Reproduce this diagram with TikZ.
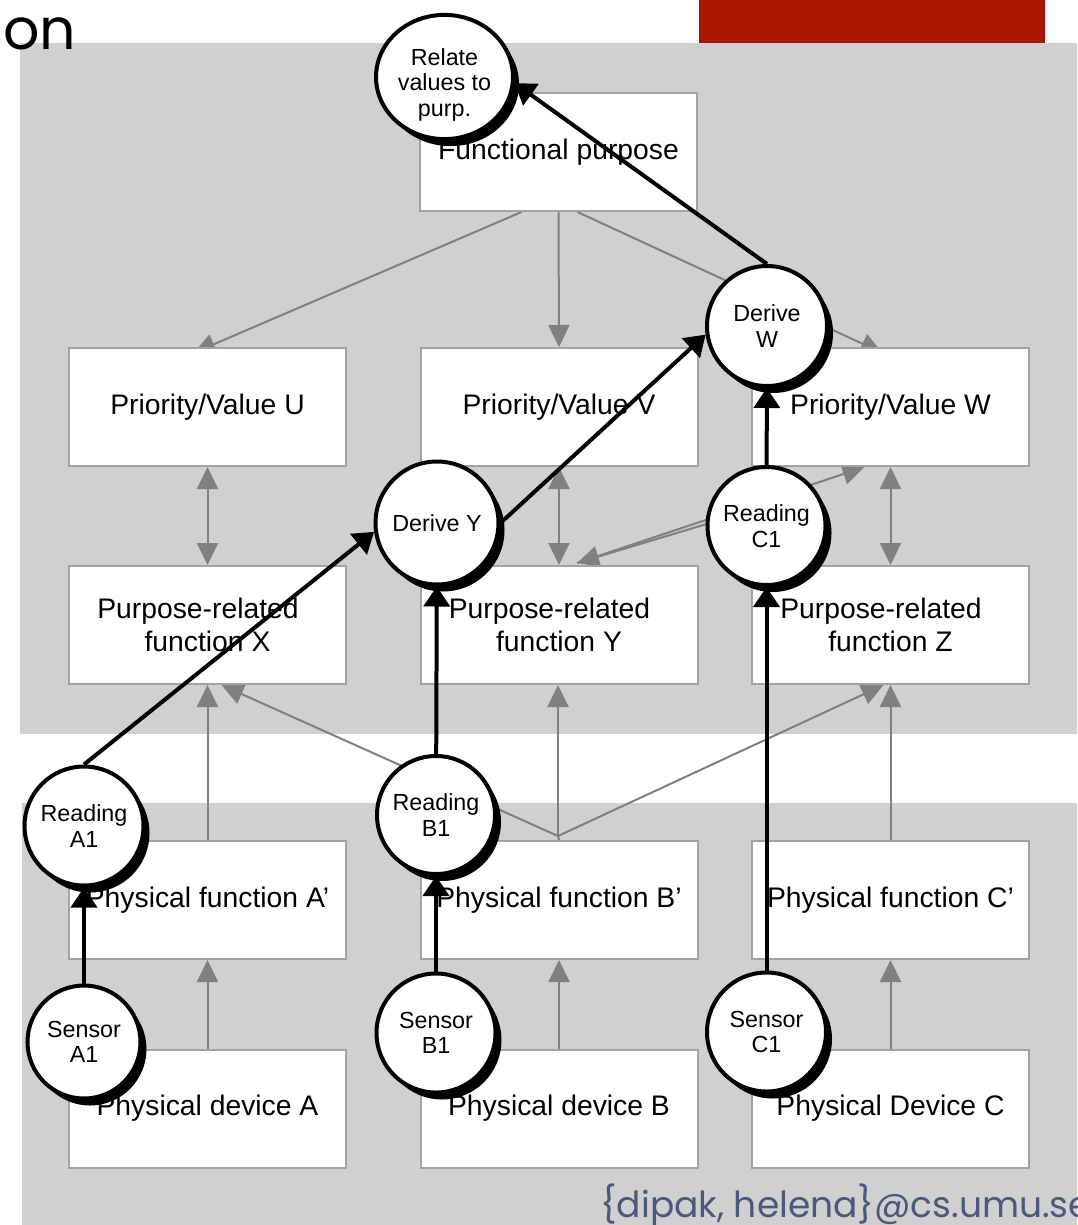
\documentclass[tikz,border=0pt]{standalone}
\usepackage{fontspec}
\setmainfont{Liberation Sans}
\newfontfamily\geofont{Poppins}
\usetikzlibrary{arrows.meta,shapes.geometric,shadows,calc}
\pgfdeclarelayer{panels}
\pgfdeclarelayer{links}
\pgfsetlayers{panels,links,main}

\definecolor{panelgray}{RGB}{208,208,208}
\definecolor{boxline}{RGB}{163,163,163}
\definecolor{linkgray}{RGB}{128,128,128}
\definecolor{bannerred}{RGB}{171,22,0}
\definecolor{mailblue}{RGB}{76,88,124}

\begin{document}
\begin{tikzpicture}[x=1pt,y=-1pt,
  absbox/.style={draw=boxline, line width=2pt, fill=white,
    minimum width=277pt, minimum height=118pt, inner sep=0pt,
    align=center, font=\fontsize{28.3}{33}\selectfont},
  opnode/.style={circle, draw=black, line width=4pt, fill=white,
    inner sep=0pt, align=center, font=\fontsize{23.3}{25.5}\selectfont,
    drop shadow={shadow xshift=6pt, shadow yshift=-7pt, fill=black, opacity=1}},
  link/.style={draw=linkgray, line width=2pt, -{Triangle[length=22pt,width=21pt]}},
  linkboth/.style={draw=linkgray, line width=2pt,
    {Triangle[length=22pt,width=21pt]}-{Triangle[length=22pt,width=21pt]}},
  flow/.style={draw=black, line width=4pt, -{Triangle[length=20pt,width=26pt]}}
]
\useasboundingbox (0,0) rectangle (1077,1225);

% background panels and banner
\begin{pgfonlayer}{panels}
  \fill[white] (0,0) rectangle (1077,1225);
  \fill[panelgray] (20,43) rectangle (1077,734);
  \fill[panelgray] (22,803) rectangle (1077,1225);
  \fill[bannerred] (699,0) rectangle (1045,43);
\end{pgfonlayer}

\node[anchor=base west, inner sep=0pt, font=\geofont\fontsize{57}{57}\selectfont] (title) at (3,50) {on};
\node[anchor=base west, inner sep=0pt, text=mailblue, font=\geofont\fontsize{36}{36}\selectfont] (mail) at (600,1217) {\{dipak, helena\}@cs.umu.se};

% abstraction hierarchy boxes
\node[absbox] (fp)  at (558.5,152) {Functional purpose};
\node[absbox] (pvu) at (207.5,407) {Priority/Value U};
\node[absbox] (pvv) at (559,407)   {Priority/Value V};
\node[absbox] (pvw) at (890.5,407) {Priority/Value W};
\node[absbox] (prx) at (207.5,625) {Purpose-related\hspace*{19pt}\\function X};
\node[absbox] (pry) at (559,625)   {Purpose-related\hspace*{19pt}\\function Y};
\node[absbox] (prz) at (890.5,625) {Purpose-related\hspace*{19pt}\\function Z};
\node[absbox] (pfa) at (207.5,900) {Physical function A’};
\node[absbox] (pfb) at (559,900)   {Physical function B’};
\node[absbox] (pfc) at (890.5,900) {Physical function C’};
\node[absbox] (pda) at (207.5,1108.5) {Physical device A};
\node[absbox] (pdb) at (559,1108.5)   {Physical device B};
\node[absbox] (pdc) at (890.5,1108.5) {Physical Device C};

% operations (the strut in the first one sets its text a little low)
\node[opnode, ellipse, minimum width=137pt, minimum height=114pt] (rel) at (444.5,77) {\rule{0pt}{32pt}Relate\\values to\\purp.};
\node[opnode, minimum size=120pt] (dw)  at (767,326)  {Derive\\W};
\node[opnode, minimum size=123pt] (dy)  at (437,523)  {Derive Y};
\node[opnode, minimum size=118pt] (rc1) at (766.5,526) {Reading\\C1};
\node[opnode, minimum size=119pt] (ra1) at (84,826)   {Reading\\A1};
\node[opnode, minimum size=118pt] (rb1) at (436,815)  {Reading\\B1};
\node[opnode, minimum size=113pt] (sa1) at (84,1042)  {Sensor\\A1};
\node[opnode, minimum size=119pt] (sb1) at (436,1033) {Sensor\\B1};
\node[opnode, minimum size=119pt] (sc1) at (766.5,1032) {Sensor\\C1};

% means-ends links
\begin{pgfonlayer}{links}
  \draw[link] ([xshift=-37pt]fp.south) -- ($(pvu.north)+(-14,6)$);
  \draw[link] (fp.south) -- (pvv.north);
  \draw[link] ([xshift=19pt]fp.south) -- ($(pvw.north)+(-8,6)$);
  \draw[linkboth] (pvu) -- (prx);
  \draw[linkboth] (pvv) -- (pry);
  \draw[linkboth] (pvw) -- (prz);
  \coordinate (ytop) at ($(pry.north)+(18,-2)$);
  \draw[link] (ytop) -- ($(pvw.south)+(-26,0)$);
  \draw[link] ($(rc1)+(0,-20)$) -- (ytop);
  \draw[link] (pfa) -- (prx);
  \coordinate (jb) at ($(pfb.north)+(-1,-4)$);
  \draw[draw=linkgray, line width=2pt] (pfb.north) -- (jb);
  \draw[link] (jb) -- ($(prx.south)+(14,0)$);
  \draw[link] (jb) -- ($(pry.south)+(-1,0)$);
  \draw[link] (jb) -- ($(prz.south)+(-7,0)$);
  \draw[link] (pfc) -- (prz);
  \draw[link] (pda) -- (pfa);
  \draw[link] (pdb) -- (pfb);
  \draw[link] (pdc) -- (pfc);
\end{pgfonlayer}

% data flow between operations
\draw[flow] (sa1) -- (ra1);
\draw[flow] (ra1.north) -- (dy.188);
\draw[flow] (sb1) -- (rb1);
\draw[flow] (rb1) -- (dy);
\draw[flow] (dy.east) -- (dw.188);
\draw[flow] (sc1) -- (rc1);
\draw[flow] (rc1) -- (dw);
\draw[flow] (dw.north) -- (rel.-5);
\end{tikzpicture}
\end{document}
